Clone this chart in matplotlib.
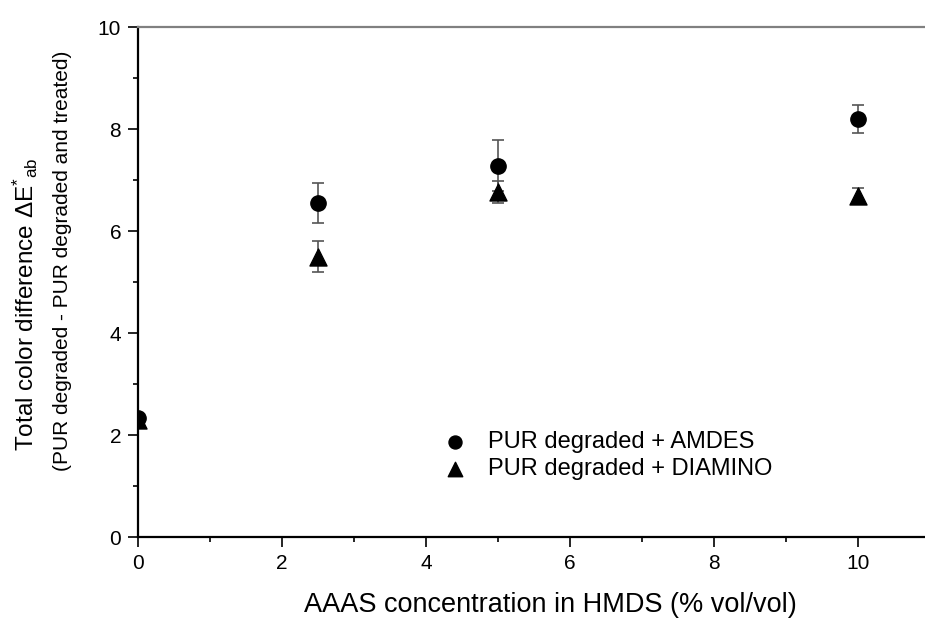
import matplotlib
matplotlib.use("Agg")
import matplotlib.pyplot as plt
from matplotlib.ticker import MultipleLocator

plt.rcParams['font.family'] = ['Liberation Sans', 'DejaVu Sans']
plt.rcParams['mathtext.fontset'] = 'custom'
plt.rcParams['mathtext.rm'] = 'Liberation Sans'
plt.rcParams['mathtext.it'] = 'Liberation Sans:italic'

# --- dados ---
conc = [0, 2.5, 5, 10]
amdes = [2.33, 6.55, 7.28, 8.20]
amdes_err = [0.0, 0.39, 0.50, 0.27]
diamino = [2.30, 5.50, 6.77, 6.69]
diamino_err = [0.0, 0.30, 0.22, 0.16]

rotulos = ['PUR degraded + AMDES', 'PUR degraded + DIAMINO']

fig = plt.figure(figsize=(9.25, 6.24), dpi=100)
# eixo passa da borda direita (figura original cortada)
ax = fig.add_axes([0.149, 0.1394, 0.891, 0.8173])

# barras de erro
ax.errorbar(conc, amdes, yerr=amdes_err, fmt='none', ecolor='#555555',
            elinewidth=1.2, capsize=4, capthick=1.2, zorder=2)
ax.errorbar(conc, diamino, yerr=diamino_err, fmt='none', ecolor='#555555',
            elinewidth=1.2, capsize=4, capthick=1.2, zorder=2)

# marcadores
s1 = ax.scatter(conc, amdes, marker='o', s=121, color='black', zorder=3, label=rotulos[0])
s2 = ax.scatter(conc, diamino, marker='^', s=150, color='black', zorder=3, label=rotulos[1])

ax.set_xlim(0, 11.44)
ax.set_ylim(0, 10)
ax.xaxis.set_major_locator(MultipleLocator(2))
ax.xaxis.set_minor_locator(MultipleLocator(1))
ax.yaxis.set_major_locator(MultipleLocator(2))
ax.yaxis.set_minor_locator(MultipleLocator(1))

ax.tick_params(which='major', direction='out', length=7, width=1.2, labelsize=15,
               colors='black', pad=5)
ax.tick_params(which='minor', direction='out', length=3.5, width=1.2)
ax.tick_params(top=False, right=False)

for lado in ['left', 'bottom']:
    ax.spines[lado].set_linewidth(1.6)
    ax.spines[lado].set_color('black')
ax.spines['top'].set_color('#808080')
ax.spines['top'].set_linewidth(1.6)
ax.spines['right'].set_visible(False)

ax.set_xlabel('AAAS concentration in HMDS (% vol/vol)', fontsize=19.5, labelpad=14)

# rótulo do eixo y em duas linhas de tamanhos diferentes (como no original)
fig.text(0.027, 0.513, 'Total color difference ΔE$^{*}{}_{\\mathrm{ab}}$',
         rotation=90, ha='center', va='center', fontsize=17.5)
fig.text(0.068, 0.582, '(PUR degraded - PUR degraded and treated)',
         rotation=90, ha='center', va='center', fontsize=15)

leg = ax.legend(handles=[s1, s2], labels=rotulos, loc='upper left',
                bbox_to_anchor=(0.351, 0.24), frameon=False, fontsize=17,
                handlelength=1.0, handletextpad=0.9, labelspacing=0.2,
                markerscale=0.85, borderaxespad=0.3, scatterpoints=1)

fig.savefig('out.png', dpi=100)
